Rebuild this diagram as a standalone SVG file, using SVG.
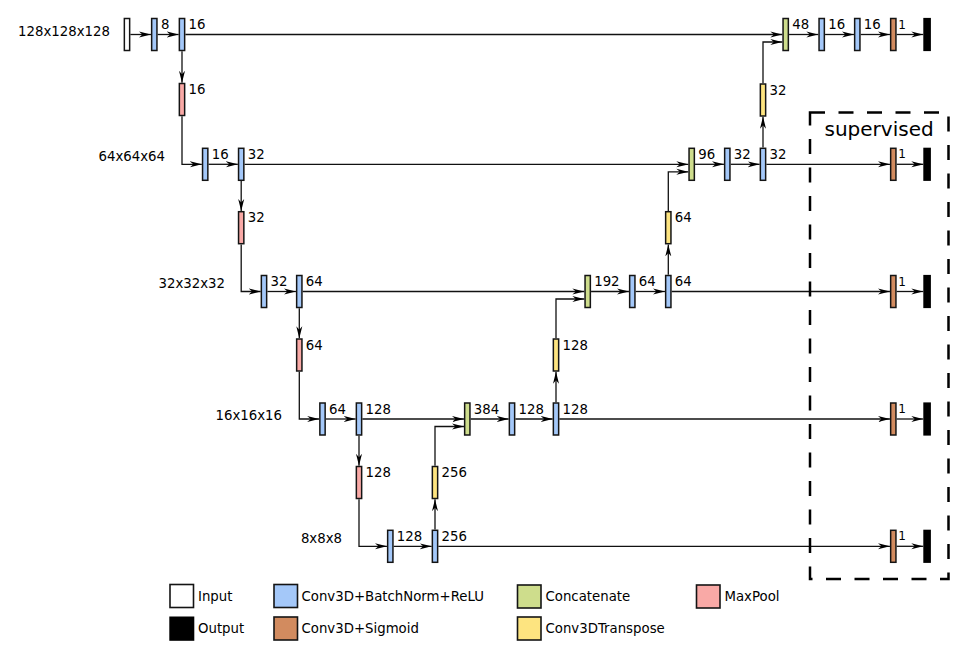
<svg xmlns="http://www.w3.org/2000/svg" width="969" height="651" viewBox="0 0 969 651">
<style>
text{font-family:"DejaVu Sans","Liberation Sans",sans-serif;fill:#000}
.lbl{font-size:13.3px}
.one{font-size:12px}
.dim{font-size:13.3px;text-anchor:end}
.b{stroke:#141414;stroke-width:1.5}
.in{fill:#fff}
.cv{fill:#a4c8f9}
.ct{fill:#cedd8c}
.mp{fill:#f9a9a6}
.up{fill:#fde480}
.sg{fill:#d28b5f}
.out{fill:#000}
.lg{stroke:#141414;stroke-width:1.6}
.c path{fill:none;stroke:#111;stroke-width:1.3;marker-end:url(#ah)}
</style>
<defs>
<marker id="ah" markerUnits="userSpaceOnUse" viewBox="0 0 12 8" refX="12" refY="4" markerWidth="12" markerHeight="8" orient="auto">
<path d="M0,1 L12,4 L0,7 L3.5,4 Z" fill="#000"/>
</marker>
</defs>
<rect width="969" height="651" fill="#fff"/>

<g id="connectors" class="c">
<path d="M130.35,34.5 H150.95"/>
<path d="M157.65,34.5 H178.65"/>
<path d="M185.35,34.5 H782.35"/>
<path d="M789.05,34.5 H818.35"/>
<path d="M825.05,34.5 H853.95"/>
<path d="M860.65,34.5 H889.95"/>
<path d="M896.65,34.5 H923.3"/>
<path d="M182,51.2 V82.8"/>
<path d="M182,116.2 V164.3 H201.85"/>
<path d="M763,83.3 V42 H782.35"/>
<path d="M763,147.6 V116.7"/>

<path d="M208.55,164.3 H237.85"/>
<path d="M244.55,164.3 H688.35"/>
<path d="M695.05,164.3 H723.95"/>
<path d="M730.65,164.3 H759.65"/>
<path d="M766.35,164.3 H889.95"/>
<path d="M896.65,164.3 H923.3"/>
<path d="M241.2,181 V211"/>
<path d="M241.2,244.4 V291.5 H260.65"/>
<path d="M668.3,211 V171.8 H688.35"/>
<path d="M668.3,274.8 V244.4"/>

<path d="M267.35,291.5 H295.95"/>
<path d="M302.65,291.5 H584.35"/>
<path d="M591.05,291.5 H628.95"/>
<path d="M635.65,291.5 H664.95"/>
<path d="M671.65,291.5 H889.95"/>
<path d="M896.65,291.5 H923.3"/>
<path d="M299.3,308.2 V338.3"/>
<path d="M299.3,371.7 V419 H319.15"/>
<path d="M556,338.3 V299 H584.35"/>
<path d="M556,402.3 V371.7"/>

<path d="M325.85,419 H355.65"/>
<path d="M362.35,419 H463.95"/>
<path d="M470.65,419 H508.65"/>
<path d="M515.35,419 H552.65"/>
<path d="M559.35,419 H889.95"/>
<path d="M896.65,419 H923.3"/>
<path d="M359,435.7 V465.8"/>
<path d="M359,499.2 V546.3 H386.95"/>
<path d="M435,465.8 V426.5 H463.95"/>
<path d="M435,529.6 V499.2"/>

<path d="M393.65,546.3 H431.65"/>
<path d="M438.35,546.3 H889.95"/>
<path d="M896.65,546.3 H923.3"/>
</g>

<g id="supervised">
<rect x="810" y="112.5" width="138.5" height="466.5" fill="none" stroke="#000" stroke-width="2.5" stroke-dasharray="15 13.5"/>
<text x="824.5" y="136" style="font-size:20px">supervised</text>
</g>

<g id="dims">
<text class="dim" x="110" y="36">128x128x128</text>
<text class="dim" x="165" y="161">64x64x64</text>
<text class="dim" x="225" y="288.3">32x32x32</text>
<text class="dim" x="282" y="420">16x16x16</text>
<text class="dim" x="342" y="543.3">8x8x8</text>
</g>

<g id="input"><rect class="b in" x="124.35" y="18.5" width="5.3" height="32"/></g>
<g id="conv1a"><rect class="b cv" x="151.65" y="18.5" width="5.3" height="32"/><text class="lbl" x="161" y="29">8</text></g>
<g id="conv1b"><rect class="b cv" x="179.35" y="18.5" width="5.3" height="32"/><text class="lbl" x="188.5" y="29">16</text></g>
<g id="pool1"><rect class="b mp" x="179.35" y="83.5" width="5.3" height="32"/><text class="lbl" x="188.5" y="94">16</text></g>

<g id="conv2a"><rect class="b cv" x="202.55" y="148.3" width="5.3" height="32"/><text class="lbl" x="211.7" y="158.8">16</text></g>
<g id="conv2b"><rect class="b cv" x="238.55" y="148.3" width="5.3" height="32"/><text class="lbl" x="247.7" y="158.8">32</text></g>
<g id="pool2"><rect class="b mp" x="238.55" y="211.7" width="5.3" height="32"/><text class="lbl" x="247.7" y="222.2">32</text></g>

<g id="conv3a"><rect class="b cv" x="261.35" y="275.5" width="5.3" height="32"/><text class="lbl" x="270.5" y="286">32</text></g>
<g id="conv3b"><rect class="b cv" x="296.65" y="275.5" width="5.3" height="32"/><text class="lbl" x="305.8" y="286">64</text></g>
<g id="pool3"><rect class="b mp" x="296.65" y="339" width="5.3" height="32"/><text class="lbl" x="305.8" y="349.5">64</text></g>

<g id="conv4a"><rect class="b cv" x="319.85" y="403" width="5.3" height="32"/><text class="lbl" x="329" y="413.5">64</text></g>
<g id="conv4b"><rect class="b cv" x="356.35" y="403" width="5.3" height="32"/><text class="lbl" x="365.5" y="413.5">128</text></g>
<g id="pool4"><rect class="b mp" x="356.35" y="466.5" width="5.3" height="32"/><text class="lbl" x="365.5" y="477">128</text></g>

<g id="conv5a"><rect class="b cv" x="387.65" y="530.3" width="5.3" height="32"/><text class="lbl" x="396.8" y="540.8">128</text></g>
<g id="conv5b"><rect class="b cv" x="432.35" y="530.3" width="5.3" height="32"/><text class="lbl" x="441.5" y="540.8">256</text></g>
<g id="up4"><rect class="b up" x="432.35" y="466.5" width="5.3" height="32"/><text class="lbl" x="441.5" y="477">256</text></g>

<g id="cat4"><rect class="b ct" x="464.65" y="403" width="5.3" height="32"/><text class="lbl" x="473.8" y="413.5">384</text></g>
<g id="conv4c"><rect class="b cv" x="509.35" y="403" width="5.3" height="32"/><text class="lbl" x="518.5" y="413.5">128</text></g>
<g id="conv4d"><rect class="b cv" x="553.35" y="403" width="5.3" height="32"/><text class="lbl" x="562.5" y="413.5">128</text></g>
<g id="up3"><rect class="b up" x="553.35" y="339" width="5.3" height="32"/><text class="lbl" x="562.5" y="349.5">128</text></g>

<g id="cat3"><rect class="b ct" x="585.05" y="275.5" width="5.3" height="32"/><text class="lbl" x="594.2" y="286">192</text></g>
<g id="conv3c"><rect class="b cv" x="629.65" y="275.5" width="5.3" height="32"/><text class="lbl" x="638.8" y="286">64</text></g>
<g id="conv3d"><rect class="b cv" x="665.65" y="275.5" width="5.3" height="32"/><text class="lbl" x="674.8" y="286">64</text></g>
<g id="up2"><rect class="b up" x="665.65" y="211.7" width="5.3" height="32"/><text class="lbl" x="674.8" y="222.2">64</text></g>

<g id="cat2"><rect class="b ct" x="689.05" y="148.3" width="5.3" height="32"/><text class="lbl" x="698.2" y="158.8">96</text></g>
<g id="conv2c"><rect class="b cv" x="724.65" y="148.3" width="5.3" height="32"/><text class="lbl" x="733.8" y="158.8">32</text></g>
<g id="conv2d"><rect class="b cv" x="760.35" y="148.3" width="5.3" height="32"/><text class="lbl" x="769.5" y="158.8">32</text></g>
<g id="up1"><rect class="b up" x="760.35" y="84" width="5.3" height="32"/><text class="lbl" x="769.5" y="94.5">32</text></g>

<g id="cat1"><rect class="b ct" x="783.05" y="18.5" width="5.3" height="32"/><text class="lbl" x="792.2" y="29">48</text></g>
<g id="conv1c"><rect class="b cv" x="819.05" y="18.5" width="5.3" height="32"/><text class="lbl" x="828.2" y="29">16</text></g>
<g id="conv1d"><rect class="b cv" x="854.65" y="18.5" width="5.3" height="32"/><text class="lbl" x="863.8" y="29">16</text></g>

<g id="sig1"><rect class="b sg" x="890.65" y="18.5" width="5.3" height="32"/><text class="one" x="898.3" y="28.5">1</text></g>
<g id="sig2"><rect class="b sg" x="890.65" y="148.3" width="5.3" height="32"/><text class="one" x="898.3" y="158.3">1</text></g>
<g id="sig3"><rect class="b sg" x="890.65" y="275.5" width="5.3" height="32"/><text class="one" x="898.3" y="285.5">1</text></g>
<g id="sig4"><rect class="b sg" x="890.65" y="403" width="5.3" height="32"/><text class="one" x="898.3" y="413">1</text></g>
<g id="sig5"><rect class="b sg" x="890.65" y="530.3" width="5.3" height="32"/><text class="one" x="898.3" y="540.3">1</text></g>

<g id="out1"><rect class="out" x="923.3" y="17.9" width="7.6" height="33.2"/></g>
<g id="out2"><rect class="out" x="923.3" y="147.7" width="7.6" height="33.2"/></g>
<g id="out3"><rect class="out" x="923.3" y="274.9" width="7.6" height="33.2"/></g>
<g id="out4"><rect class="out" x="923.3" y="402.4" width="7.6" height="33.2"/></g>
<g id="out5"><rect class="out" x="923.3" y="529.7" width="7.6" height="33.2"/></g>

<g id="legend">
<rect class="lg in" x="170" y="584.5" width="23.5" height="23"/><text class="lbl" x="198" y="600.5">Input</text>
<rect class="out" x="169.3" y="616.5" width="25" height="24.3"/><text class="lbl" x="198" y="633">Output</text>
<rect class="lg cv" x="274" y="584.5" width="23.5" height="23"/><text class="lbl" x="301.5" y="600.5">Conv3D+BatchNorm+ReLU</text>
<rect class="lg sg" x="274" y="617" width="23.5" height="23"/><text class="lbl" x="301.5" y="633">Conv3D+Sigmoid</text>
<rect class="lg ct" x="517.5" y="585" width="23.5" height="23"/><text class="lbl" x="545.5" y="600.5">Concatenate</text>
<rect class="lg up" x="517.5" y="617" width="23.5" height="23"/><text class="lbl" x="545.5" y="633">Conv3DTranspose</text>
<rect class="lg mp" x="696.5" y="585" width="23.5" height="23"/><text class="lbl" x="724.5" y="600.5">MaxPool</text>
</g>
</svg>
